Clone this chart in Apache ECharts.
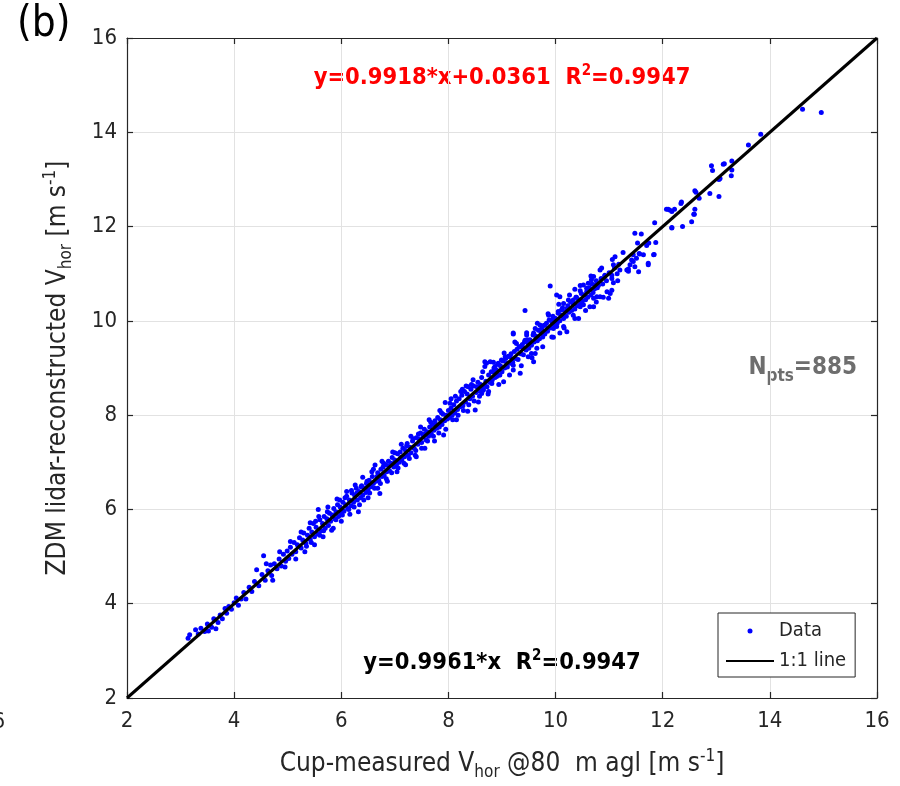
<!DOCTYPE html>
<html>
<head>
<meta charset="utf-8">
<title>ZDM lidar vs cup anemometer</title>
<script src="https://cdn.jsdelivr.net/npm/echarts/dist/echarts.min.js"></script>
<style>
  html, body { margin: 0; padding: 0; background: #fff; }
  #chart { width: 900px; height: 786px; }
</style>
</head>
<body>
<div id="chart"></div>
<script>
// cup-measured vs lidar-reconstructed horizontal wind speed [m/s]
const dataBelow5 = [
  [3.14,3.27],[3.17,3.34],[3.28,3.45],[3.33,3.36],[3.38,3.48],[3.45,3.41],[3.5,3.57],[3.52,3.42],
  [3.58,3.5],[3.62,3.68],[3.66,3.47],[3.7,3.6],[3.74,3.76],[3.78,3.68],[3.83,3.9],[3.86,3.8],
  [3.9,3.94],[3.95,3.88],[4.0,4.02],[4.04,4.12],[4.08,3.97],[4.13,4.1],[4.18,4.24],[4.22,4.1],
  [4.28,4.35],[4.33,4.26],[4.38,4.47],[4.42,4.72],[4.46,4.38],[4.52,4.62],[4.55,5.02],[4.58,4.5],
  [4.63,4.7],[4.68,4.82],[4.7,4.6],[4.75,4.85],[4.8,4.74],[4.84,4.95],[4.88,4.8],[4.92,5.05],
  [4.96,4.9],[4.99,5.12]
]
const data5to65 = [
  [5.02,4.96],[5.05,5.2],[5.08,5.05],[5.12,5.3],[5.15,5.1],[5.18,5.25],[5.22,5.4],[5.25,5.18],
  [5.28,5.35],[5.3,5.5],[5.34,5.28],[5.37,5.45],[5.4,5.6],[5.42,5.36],[5.45,5.52],[5.48,5.7],
  [5.5,5.42],[5.53,5.62],[5.56,5.48],[5.57,6.0],[5.6,5.78],[5.62,5.55],[5.65,5.7],[5.68,5.85],
  [5.7,5.6],[5.73,5.8],[5.76,5.66],[5.78,5.92],[5.8,5.75],[5.83,5.88],[5.86,6.02],[5.88,5.8],
  [5.9,5.95],[5.93,6.1],[5.95,5.85],[5.98,6.05],[6.0,5.92],[6.03,6.15],[6.05,5.96],[6.08,6.1],
  [6.1,6.28],[6.12,6.02],[6.15,6.2],[6.18,6.08],[6.2,6.35],[6.23,6.15],[6.25,6.3],[6.28,6.45],
  [6.3,6.2],[6.33,6.38],[6.36,6.25],[6.38,6.5],[6.4,6.3],[6.43,6.45],[6.46,6.36],[6.48,6.6],
  [5.35,5.22],[5.44,5.3],[5.52,5.75],[5.6,5.45],[5.67,5.55],[5.74,5.95],[5.82,5.56],[5.9,5.78],
  [5.97,6.2],[6.02,5.88],[6.07,6.25],[6.14,6.0],[6.19,6.4],[6.24,6.05],[6.29,6.35],[6.32,5.95],
  [6.37,6.48],[6.42,6.2],[6.47,6.55]
]
const data65to8 = [
  [6.5,6.42],[6.52,6.62],[6.55,6.48],[6.58,6.7],[6.6,6.55],[6.63,6.94],[6.65,6.6],[6.68,6.78],
  [6.7,6.62],[6.72,6.34],[6.74,6.85],[6.76,6.7],[6.78,6.9],[6.8,6.72],[6.83,6.95],[6.85,6.8],
  [6.88,7.02],[6.9,6.82],[6.93,6.98],[6.95,7.1],[6.98,6.9],[7.0,7.05],[7.03,6.95],[7.05,7.18],
  [7.08,7.0],[7.1,7.22],[7.13,7.05],[7.15,7.3],[7.18,7.12],[7.2,7.25],[7.23,7.4],[7.25,7.15],
  [7.28,7.32],[7.3,7.2],[7.33,7.45],[7.36,7.3],[7.38,7.15],[7.4,7.52],[7.43,7.38],[7.45,7.5],
  [7.48,7.62],[7.5,7.42],[7.53,7.55],[7.55,7.7],[7.58,7.48],[7.6,7.65],[7.63,7.55],[7.65,7.75],
  [7.68,7.6],[7.7,7.8],[7.73,7.68],[7.75,7.88],[7.78,7.72],[7.8,7.95],[7.83,7.75],[7.85,7.9],
  [7.88,7.8],[7.9,8.02],[7.91,7.58],[7.93,7.88],[7.94,8.27],[7.96,8.0],[7.98,7.92],
  [6.53,6.35],[6.57,6.8],[6.62,6.45],[6.67,6.7],[6.73,6.55],[6.79,6.98],[6.84,6.65],[6.89,6.92],
  [6.94,6.78],[7.0,7.2],[7.06,6.88],[7.11,7.1],[7.17,6.98],[7.22,7.35],[7.27,7.08],[7.34,7.5],
  [7.39,7.25],[7.44,7.6],[7.5,7.3],[7.56,7.6],[7.61,7.45],[7.67,7.85],[7.72,7.55],[7.77,7.8],
  [7.82,7.62],[7.87,8.05]
]
const data8to95 = [
  [8.0,8.1],[8.02,7.95],[8.05,8.15],[8.07,8.0],[8.1,8.22],[8.12,8.05],[8.15,8.3],[8.17,8.12],
  [8.2,8.35],[8.22,8.18],[8.25,8.42],[8.27,8.2],[8.3,8.5],[8.32,8.28],[8.35,8.45],[8.37,8.6],
  [8.4,8.35],[8.42,8.55],[8.45,8.4],[8.47,8.62],[8.5,8.11],[8.52,8.48],[8.55,8.7],[8.57,8.52],
  [8.6,8.65],[8.62,8.8],[8.65,8.55],[8.68,9.13],[8.7,8.72],[8.72,8.6],[8.75,8.85],[8.77,8.7],
  [8.8,8.92],[8.82,8.75],[8.85,9.0],[8.87,8.8],[8.9,8.95],[8.92,9.08],[8.95,8.85],[8.97,9.05],
  [9.0,8.92],[9.02,9.15],[9.05,9.0],[9.07,9.2],[9.1,9.02],[9.12,9.25],[9.15,9.1],[9.17,9.3],
  [9.2,9.12],[9.21,9.72],[9.23,9.35],[9.25,9.2],[9.28,9.4],[9.3,9.18],[9.32,9.45],[9.34,8.89],
  [9.35,9.3],[9.38,9.5],[9.4,9.28],[9.42,9.55],[9.45,9.38],[9.47,9.6],[9.5,9.42],
  [8.03,8.25],[8.08,7.9],[8.13,8.4],[8.18,8.0],[8.23,8.5],[8.28,8.1],[8.33,8.62],[8.38,8.22],
  [8.43,8.65],[8.48,8.3],[8.53,8.6],[8.58,8.4],
  [8.62,8.46],[8.75,8.5],[8.65,8.53],[8.68,8.64],[8.81,8.67],[8.9,8.82],[9.03,8.71],[8.84,8.92],
  [8.96,8.85],[8.68,9.03],[8.71,9.1],[8.78,9.13],[8.87,9.03],[8.93,9.1],[8.99,9.17],[9.06,9.24],
  [9.15,9.24],[9.09,9.1],[9.21,9.06],[9.21,8.96],[9.21,9.74],[9.27,9.52],[9.34,9.45],[9.4,9.42],
  [9.49,9.52],[9.43,9.59],[9.46,9.7],[9.49,9.24],[9.43,10.22]
]
const data95to11 = [
  [9.59,9.74],[9.59,9.13],[9.55,9.31],[9.62,9.31],[9.65,9.42],[9.62,9.84],[9.74,9.84],[9.71,9.91],
  [9.8,9.91],[9.96,9.84],[9.93,9.66],[10.08,9.74],[10.02,9.88],[10.15,9.88],[10.21,9.77],[9.87,10.12],
  [9.93,10.02],[9.99,10.05],[10.15,10.09],[10.33,10.12],[10.43,10.05],[10.05,10.16],[10.11,10.23],[10.22,10.27],
  [10.15,10.37],[9.9,10.74],[10.02,10.55],[10.08,10.51],[10.24,10.44],[10.39,10.5],[10.33,10.44],[10.52,10.34],
  [10.46,10.3],[10.64,10.3],[10.71,10.3],[10.36,10.67],[10.46,10.64],[10.58,10.69],[10.52,10.76],[10.74,10.76],
  [10.67,10.87],[10.61,10.8],[10.71,10.94],[10.83,11.08],[10.92,10.97],[11.08,10.81],[11.05,10.97],[11.08,11.19],
  [11.11,11.36],[10.77,10.51],[10.83,10.51],[10.89,10.5],[10.99,10.48],[11.02,10.58],[11.05,10.65],[10.71,10.48],
  [9.52,9.6],[9.55,9.48],[9.58,9.7],[9.6,9.55],[9.63,9.68],[9.66,9.58],[9.68,9.8],[9.7,9.62],
  [9.73,9.75],[9.76,9.66],[9.78,9.9],[9.8,9.72],[9.83,9.95],[9.85,9.78],[9.88,10.02],[9.9,9.85],
  [9.93,9.98],[9.95,10.1],[9.98,9.9],[10.0,10.05],[10.03,9.95],[10.05,10.2],[10.08,10.0],[10.1,10.12],
  [10.13,10.28],[10.15,10.05],[10.18,10.2],[10.2,10.1],[10.23,10.32],[10.25,10.18],[10.28,10.4],[10.3,10.22],
  [10.33,10.35],[10.36,10.25],[10.38,10.5],[10.4,10.32],[10.43,10.45],[10.46,10.35],[10.48,10.58],[10.5,10.42],
  [10.53,10.55],[10.56,10.45],[10.58,10.62],[10.6,10.5],[10.63,10.7],[10.66,10.55],[10.68,10.78],[10.7,10.6],
  [10.73,10.68],[10.76,10.85],[10.78,10.7],[10.8,10.75],[10.85,10.9],[10.88,10.78],[10.92,10.95],[10.95,10.85],
  [11.0,11.02]
]
const dataAbove11 = [
  [11.05,10.9],[11.1,11.12],[11.15,11.0],[11.18,11.2],[11.2,11.08],[11.33,11.08],[11.36,11.1],[11.39,11.19],
  [11.45,11.26],[11.42,11.29],[11.51,11.33],[11.64,11.4],[11.56,11.43],[11.48,11.15],[11.55,11.04],[11.73,11.22],
  [11.73,11.19],[11.83,11.4],[11.45,11.4],[11.57,11.42],[11.84,11.41],[11.7,11.6],[11.74,11.65],[11.53,11.65],
  [11.6,11.84],[11.48,11.86],[11.87,11.66],[11.85,12.08],[12.17,11.98],[12.37,12.0],[12.54,12.1],[12.58,12.26],
  [12.6,12.37],[12.1,12.37],[12.13,12.35],[12.22,12.37],[12.35,12.52],[12.68,12.6],[12.6,12.76],[12.62,12.73],
  [12.88,12.7],[13.05,12.64],[13.05,13.0],[13.07,13.02],[13.28,13.08],[13.29,13.2],[13.29,13.39],[13.15,13.33],
  [13.13,13.32],[12.93,13.19],[12.91,13.29],[13.6,13.73],[13.83,13.96],[14.61,14.49],[14.96,14.42],
  [12.07,12.37],[12.17,12.32],[12.34,12.49],[12.59,12.26],[12.17,11.97]
]
// the wider-scattered points on both sides of the band
const dataSpread = [
  [4.6,4.85],[4.72,4.5],[4.85,5.1],[4.95,4.78],[5.05,5.32],[5.15,4.95],[5.25,5.52],[5.32,5.1],
  [5.42,5.72],[5.5,5.25],[5.58,5.85],[5.66,5.42],[5.75,6.05],[5.85,5.6],[5.92,6.22],[6.0,5.75],
  [6.1,6.38],[6.16,5.9],[6.26,6.52],[6.34,6.1],[6.4,6.68],[6.5,6.25],[6.6,6.85],[6.68,6.45],
  [6.76,7.02],[6.86,6.6],[6.96,7.22],[7.04,6.8],[7.12,7.38],[7.2,6.95],[7.3,7.55],[7.4,7.12],
  [7.48,7.75],[7.56,7.3],[7.64,7.9],[7.74,7.45],[7.84,8.1],[7.95,7.7],[8.05,8.35],[8.15,7.9],
  [8.26,8.55],[8.36,8.08],[8.46,8.75],[8.56,8.28],[8.64,8.92],[8.74,8.45],[8.84,9.12],[8.94,8.65],
  [9.04,9.32],[9.14,8.85],[9.24,9.55],[9.36,9.05],[9.46,9.75],[9.56,9.22],[9.66,9.95],[9.76,9.45],
  [9.86,10.15],[9.96,9.65],[10.06,10.35],[10.16,9.85],[10.26,10.55],[10.36,10.05],[10.46,10.75],[10.56,10.22],
  [10.66,10.95],[10.76,10.4],[10.86,11.12],[10.96,10.62],[11.06,11.3],[11.16,10.85],[11.26,11.45],[11.36,11.05]
]
const diagLine = [[2, 2], [16, 16]]
const axisMin = 2
const axisMax = 16
const tickStep = 2

const chart = echarts.init(document.getElementById('chart'))
const FONT = "'Liberation Sans Narrow', 'Arial Narrow', 'DejaVu Sans Condensed', 'Liberation Sans', sans-serif"

const scatterData = [].concat(dataBelow5, data5to65, data65to8, data8to95, data95to11, dataAbove11, dataSpread)

const baseAxis = {
  min: axisMin,
  max: axisMax,
  interval: tickStep,
  axisLine: { show: true, lineStyle: { color: '#262626', width: 1.2 } },
  axisTick: { show: true, inside: true, length: 6, lineStyle: { color: '#262626', width: 1.2 } },
  splitLine: { show: false },
}

const nameRich = {
  sub: { fontFamily: FONT, fontSize: 17, color: '#262626', padding: [16, 0, 0, 0] },
  sup: { fontFamily: FONT, fontSize: 17, color: '#262626', padding: [0, 0, 16, 0] }
}

const option = {
  animation: false,
  backgroundColor: '#fff',
  grid: { left: 127, top: 38, width: 750, height: 660, containLabel: false },
  xAxis: [
    {
      ...baseAxis,
      type: 'value',
      position: 'bottom',
      splitLine: { show: true, lineStyle: { color: '#e2e2e2', width: 1 } },
      axisLabel: { margin: 12, fontFamily: FONT, fontSize: 22, color: '#262626' },
      name: 'Cup-measured V{sub|hor} @80  m agl [m s{sup|-1}]',
      nameLocation: 'middle',
      nameGap: 50,
      nameTextStyle: { fontFamily: FONT, fontSize: 26, color: '#262626', rich: nameRich }
    },
    { ...baseAxis, type: 'value', position: 'top', axisLabel: { show: false } }
  ],
  yAxis: [
    {
      ...baseAxis,
      type: 'value',
      position: 'left',
      splitLine: { show: true, lineStyle: { color: '#e2e2e2', width: 1 } },
      axisLabel: { margin: 10, fontFamily: FONT, fontSize: 22, color: '#262626' },
      name: 'ZDM lidar-reconstructed V{sub|hor} [m s{sup|-1}]',
      nameLocation: 'middle',
      nameGap: 52,
      nameRotate: 90,
      nameTextStyle: { fontFamily: FONT, fontSize: 26, color: '#262626', rich: nameRich }
    },
    { ...baseAxis, type: 'value', position: 'right', axisLabel: { show: false } }
  ],
  legend: {
    orient: 'vertical',
    left: 718,
    top: 613,
    padding: [8, 9, 6, 7],
    itemWidth: 48,
    itemHeight: 5,
    itemGap: 10,
    borderColor: '#262626',
    borderWidth: 1,
    backgroundColor: '#fff',
    textStyle: { fontFamily: FONT, fontSize: 20, color: '#262626' },
    data: [
      { name: 'Data', icon: 'circle' },
      { name: '1:1 line', itemStyle: { opacity: 0 } }
    ]
  },
  series: [
    {
      name: 'Data',
      type: 'scatter',
      data: scatterData,
      symbol: 'circle',
      symbolSize: 5,
      symbolKeepAspect: true,
      itemStyle: { color: '#0000ff', opacity: 1 },
      z: 2
    },
    {
      name: '1:1 line',
      type: 'line',
      data: diagLine,
      showSymbol: false,
      symbol: 'none',
      lineStyle: { color: '#000', width: 3 },
      itemStyle: { color: '#000', opacity: 0 },
      z: 3
    }
  ],
  graphic: [
    {
      type: 'text', left: 17, top: 4,
      style: { text: '(b)', font: '42px ' + FONT, fill: '#000' }
    },
    {
      // label of the neighbouring panel, cut by the page edge
      type: 'text', x: 5, y: 722,
      style: { text: '6', font: '22px ' + FONT, fill: '#262626', align: 'right', verticalAlign: 'middle', textAlign: 'right', textVerticalAlign: 'middle' }
    },
    {
      type: 'text', x: 502, y: 78,
      style: {
        text: 'y=0.9918*x+0.0361  R{sup|2}=0.9947',
        font: 'bold 23.5px ' + FONT, fill: '#ff0000',
        align: 'center', verticalAlign: 'middle', textAlign: 'center', textVerticalAlign: 'middle',
        rich: { sup: { font: 'bold 15px ' + FONT, fill: '#ff0000', padding: [0, 0, 14, 0] } }
      }
    },
    {
      type: 'text', x: 502, y: 663,
      style: {
        text: 'y=0.9961*x  R{sup|2}=0.9947',
        font: 'bold 23.5px ' + FONT, fill: '#000',
        align: 'center', verticalAlign: 'middle', textAlign: 'center', textVerticalAlign: 'middle',
        rich: { sup: { font: 'bold 15px ' + FONT, fill: '#000', padding: [0, 0, 14, 0] } }
      }
    },
    {
      type: 'text', x: 857, y: 368,
      style: {
        text: 'N{sub|pts}=885',
        font: 'bold 24px ' + FONT, fill: '#6e6e6e',
        align: 'right', verticalAlign: 'middle', textAlign: 'right', textVerticalAlign: 'middle',
        rich: { sub: { font: 'bold 17px ' + FONT, fill: '#6e6e6e', padding: [18, 0, 0, 0] } }
      }
    }
  ]
}

chart.setOption(option)
</script>
</body>
</html>
